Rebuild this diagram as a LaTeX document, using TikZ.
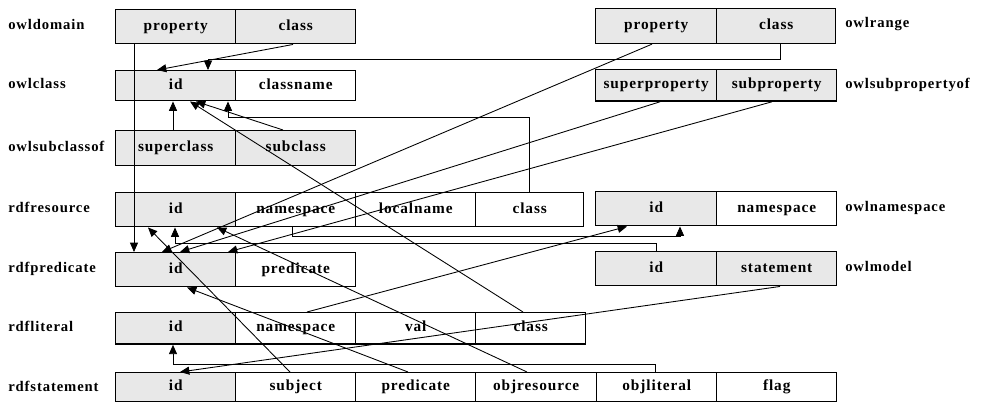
\documentclass[tikz,border=0pt]{standalone}
\usepackage{fontspec}
\setmainfont{Liberation Serif}[LetterSpace=6]
\usetikzlibrary{arrows.meta}
\begin{document}
\begin{tikzpicture}[x=0.75pt,y=-0.75pt,
  cell/.style={draw, line width=1.1pt, inner sep=0pt, anchor=north west,
    text height=7.6pt, text depth=2.4pt,
    font=\bfseries\fontsize{11.5}{13}\selectfont},
  cg/.style={cell, fill=gray!18},
  cw/.style={cell, fill=white},
  lab/.style={anchor=west, inner sep=0pt, text height=7.6pt, text depth=2.4pt,
    font=\bfseries\fontsize{11}{13}\selectfont},
  conn/.style={line width=0.65pt, -{Triangle[length=7pt,width=6pt]}}]
\useasboundingbox (0,0) rectangle (989,402);
\foreach \v in {134,148,157,162,173,175,180,187,190,196,208,217,228,283,290,292,293,307,408,523,527,529,627,652,655,656,660,680,772,780}
  \coordinate (x\v) at (\v,0);

% owldomain
\node[cg, minimum width=90pt, minimum height=25.5pt] (dp) at (115,9) {property};
\node[cg, minimum width=90pt, minimum height=25.5pt] (dc) at (235,9) {class};
\node[lab] (ldomain) at (8,26) {owldomain};
% owlclass
\node[cg, minimum width=90pt, minimum height=22.5pt] (ci) at (115,70) {id};
\node[cw, minimum width=90pt, minimum height=22.5pt] (cn) at (235,70) {classname};
\node[lab] (lclass) at (8,85) {owlclass};
% owlsubclassof
\node[cg, minimum width=90pt, minimum height=26pt] (scs) at (115,130) {superclass};
\node[cg, minimum width=90pt, minimum height=26pt] (scb) at (235,130) {subclass};
\node[lab] (lsubclass) at (8,148) {owlsubclassof};
% rdfresource
\node[cg, minimum width=90pt, minimum height=25.5pt] (resi) at (115,192) {id};
\node[cw, minimum width=90pt, minimum height=25.5pt] (resns) at (235,192) {namespace};
\node[cw, minimum width=90pt, minimum height=25.5pt] (resl) at (355,192) {localname};
\node[cw, minimum width=81pt, minimum height=25.5pt] (resc) at (475,192) {class};
\node[lab] (lres) at (8,209) {rdfresource};
% rdfpredicate
\node[cg, minimum width=90pt, minimum height=25.5pt] (pi) at (115,252) {id};
\node[cw, minimum width=90pt, minimum height=25.5pt] (pp) at (235,252) {predicate};
\node[lab] (lpred) at (8,269) {rdfpredicate};
% rdfliteral
\node[cg, minimum width=90pt, minimum height=23.5pt] (li) at (115,312) {id};
\node[cw, minimum width=90pt, minimum height=23.5pt] (litns) at (235,312) {namespace};
\node[cw, minimum width=90pt, minimum height=23.5pt] (lv) at (355,312) {val};
\node[cw, minimum width=82.5pt, minimum height=23.5pt] (litc) at (475,312) {class};
\node[lab] (llit) at (8,328) {rdfliteral};
% rdfstatement
\node[cg, minimum width=90pt, minimum height=22pt] (si) at (115,372) {id};
\node[cw, minimum width=90pt, minimum height=22pt] (ss) at (235,372) {subject};
\node[cw, minimum width=90pt, minimum height=22pt] (stp) at (355,372) {predicate};
\node[cw, minimum width=90.75pt, minimum height=22pt] (sor) at (475,372) {objresource};
\node[cw, minimum width=90pt, minimum height=22pt] (sol) at (596,372) {objliteral};
\node[cw, minimum width=90pt, minimum height=22pt] (sf) at (716,372) {flag};
\node[lab] (lstat) at (8,388) {rdfstatement};
% owlrange
\node[cg, minimum width=90.75pt, minimum height=26pt] (rp) at (595,8) {property};
\node[cg, minimum width=89.25pt, minimum height=26pt] (rc) at (716,8) {class};
\node[lab] (lrange) at (845,24) {owlrange};
% owlsubpropertyof
\node[cg, minimum width=90.75pt, minimum height=23.5pt] (sp) at (595,69) {superproperty};
\node[cg, minimum width=90pt, minimum height=23.5pt] (sb) at (716,69) {subproperty};
\node[lab] (lsubprop) at (845,85) {owlsubpropertyof};
% owlnamespace
\node[cg, minimum width=90.75pt, minimum height=25.5pt] (nsi) at (595,191) {id};
\node[cw, minimum width=90pt, minimum height=25.5pt] (nsn) at (716,191) {namespace};
\node[lab] (lns) at (845,208) {owlnamespace};
% owlmodel
\node[cg, minimum width=90.75pt, minimum height=25.5pt] (mi) at (595,251) {id};
\node[cg, minimum width=90pt, minimum height=25.5pt] (ms) at (716,251) {statement};
\node[lab] (lmodel) at (845,268) {owlmodel};

% connectors
\draw[conn] (dp.south -| x134) -- (pi.north -| x134);
\draw[conn] (dc.south -| x293) -- (ci.north -| x157);
\draw[conn] (rc.south -| x780) -- ++(0,15) -| (ci.north -| x208);
\draw[conn] (rp.south -| x652) -- (pi.north -| x162);
\draw[conn] (sp.south -| x660) -- (pi.north -| x180);
\draw[conn] (sb.south -| x772) -- (pi.north -| x228);
\draw[conn] (scs.north -| x173) -- (ci.south -| x173);
\draw[conn] (scb.north -| x283) -- (ci.south -| x196);
\draw[conn] (resc.north -| x529) -- ++(0,-75) -| (ci.south -| x228);
\draw[conn] (litc.north -| x523) -- (ci.south -| x190);
\draw[conn] (resns.south -| x292) -- ++(0,9) -| (nsi.south -| x680);
\draw[conn] (litns.north -| x307) -- (nsi.south -| x627);
\draw[conn] (mi.north -| x656) -- ++(0,-8) -| (resi.south -| x175);
\draw[conn] (ss.north -| x290) -- (resi.south -| x148);
\draw[conn] (stp.north -| x408) -- (pi.south -| x187);
\draw[conn] (sor.north -| x527) -- (resi.south -| x217);
\draw[conn] (sol.north -| x655) -- ++(0,-8) -| (li.south -| x173);
\draw[conn] (ms.south -| x780) -- (si.north -| x180);
\end{tikzpicture}
\end{document}
